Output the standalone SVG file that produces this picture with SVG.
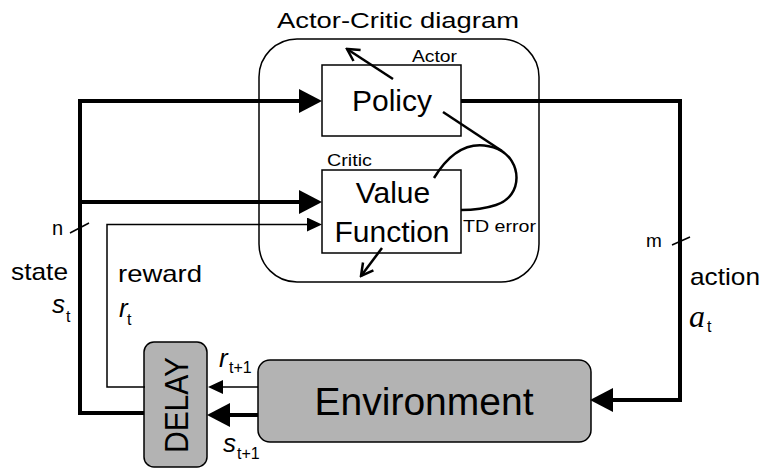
<svg xmlns="http://www.w3.org/2000/svg" width="762" height="468" viewBox="0 0 762 468">
<style>
  text { font-family: "Liberation Sans", Arial, sans-serif; fill: #000; }
  .box { fill: #fff; stroke: #000; stroke-width: 1.5; }
  .gray { fill: #b3b3b3; stroke: #000; stroke-width: 1.5; }
  .thick { fill: none; stroke: #000; stroke-width: 4; stroke-linejoin: miter; }
  .thin { fill: none; stroke: #000; stroke-width: 1.5; }
  .mid { fill: none; stroke: #000; stroke-width: 2.5; }
  .it { font-style: italic; }
</style>
<defs>
  <marker id="big" viewBox="0 0 23 24" refX="0" refY="12" markerWidth="23" markerHeight="24" markerUnits="userSpaceOnUse" orient="auto">
    <path d="M0,0 L23,12 L0,24 Z" fill="#000"/>
  </marker>
  <marker id="small" viewBox="0 0 15 14" refX="0" refY="7" markerWidth="15" markerHeight="14" markerUnits="userSpaceOnUse" orient="auto">
    <path d="M0,0 L15,7 L0,14 Z" fill="#000"/>
  </marker>
  <marker id="open" viewBox="-14 -8 16 16" refX="0" refY="0" markerWidth="16" markerHeight="16" markerUnits="userSpaceOnUse" orient="auto">
    <path d="M-12,-6.5 L0,0 L-12,6.5" fill="none" stroke="#000" stroke-width="2.5"/>
  </marker>
</defs>

<g id="actor-critic">
  <rect x="259" y="39" width="280" height="243" rx="38" ry="38" fill="none" stroke="#000" stroke-width="1.5"/>
  <text x="398" y="28" text-anchor="middle" font-size="22" textLength="242" lengthAdjust="spacingAndGlyphs">Actor-Critic diagram</text>
</g>

<g id="policy">
  <rect class="box" x="322" y="65" width="139" height="71"/>
  <text x="392" y="111" text-anchor="middle" font-size="30">Policy</text>
  <text x="412" y="62" font-size="16" textLength="45" lengthAdjust="spacingAndGlyphs">Actor</text>
</g>

<g id="value-function">
  <rect class="box" x="322" y="170" width="139" height="83"/>
  <text x="393" y="203" text-anchor="middle" font-size="30">Value</text>
  <text x="392" y="242" text-anchor="middle" font-size="30">Function</text>
  <text x="327" y="166" font-size="17" textLength="45" lengthAdjust="spacingAndGlyphs">Critic</text>
</g>

<g id="environment">
  <rect class="gray" x="258" y="360" width="333" height="82" rx="12" ry="12"/>
  <text x="424" y="415" text-anchor="middle" font-size="39">Environment</text>
</g>

<g id="delay">
  <rect class="gray" x="144" y="342" width="63" height="125" rx="10" ry="10"/>
  <text transform="translate(188,405) rotate(-90)" x="0" y="0" text-anchor="middle" font-size="33" textLength="96" lengthAdjust="spacingAndGlyphs">DELAY</text>
</g>

<g id="connectors">
  <path class="thick" d="M144,413 L80,413 L80,101 L299,101" marker-end="url(#big)"/>
  <path class="thick" d="M80,202 L299,202" marker-end="url(#big)"/>
  <path class="thick" d="M461,101 L680,101 L680,400 L613,400" marker-end="url(#big)"/>
  <path class="thin" d="M145,387 L107,387 L107,224.5 L307,224.5" marker-end="url(#small)"/>
  <path class="thin" d="M258,387 L223,387" marker-end="url(#small)"/>
  <path class="thick" d="M258,415 L230,415" marker-end="url(#big)"/>
  <path class="mid" d="M393,79 L347,49" marker-end="url(#open)"/>
  <path class="mid" d="M382,248 L361,276" marker-end="url(#open)"/>
  <path class="mid" d="M443,112 L502,151"/>
  <path class="mid" d="M434,178 C448,155 468,137 498,149 C522,160 524,196 496,205 C484,209 472,210 461,210"/>
  <path class="thin" d="M70,233 L89,223"/>
  <path class="thin" d="M672,245 L690,237"/>
</g>

<g id="labels">
  <text x="463" y="232" font-size="17" textLength="73" lengthAdjust="spacingAndGlyphs">TD error</text>
  <text x="52" y="235" font-size="20">n</text>
  <text x="646" y="247" font-size="19">m</text>
  <text x="11" y="280" font-size="24" textLength="57" lengthAdjust="spacingAndGlyphs">state</text>
  <text x="52" y="313" font-size="26" class="it">s</text>
  <text x="66" y="322" font-size="16">t</text>
  <text x="118" y="282" font-size="24" textLength="84" lengthAdjust="spacingAndGlyphs">reward</text>
  <text x="119" y="317" font-size="26" class="it">r</text>
  <text x="127" y="325" font-size="16">t</text>
  <text x="690" y="285" font-size="24" textLength="70" lengthAdjust="spacingAndGlyphs">action</text>
  <text x="689" y="327" font-size="32" style="font-family: 'Liberation Serif', 'Times New Roman', serif; font-style: italic;">a</text>
  <text x="707" y="332" font-size="16">t</text>
  <text x="219" y="367" font-size="26" class="it">r</text>
  <text x="229" y="373" font-size="16">t+1</text>
  <text x="223" y="452" font-size="26" class="it">s</text>
  <text x="237" y="459" font-size="16">t+1</text>
</g>
</svg>
